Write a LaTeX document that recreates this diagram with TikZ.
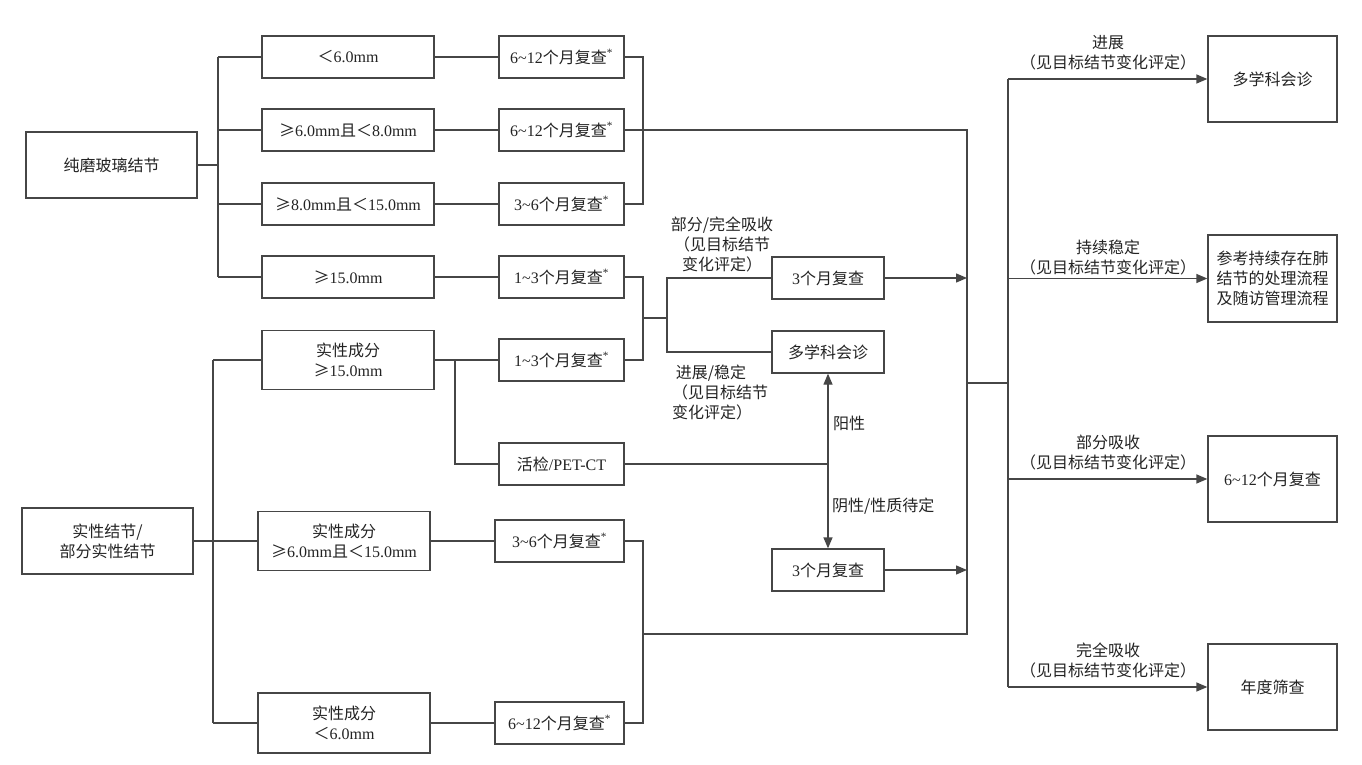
\documentclass[tikz,border=0pt]{standalone}
\usepackage{fontspec}
\setmainfont{Liberation Serif}
\newfontfamily\cjkf{Noto Sans CJK SC}
\usetikzlibrary{arrows.meta}
\newcommand{\zh}[1]{{\cjkf #1}}
\newcommand{\tld}{\textasciitilde}
\newcommand{\sta}{\textsuperscript{*}}
\newcommand{\fsz}{\fontsize{16}{20}\selectfont}
\definecolor{lc}{RGB}{70,70,70}
\definecolor{tc}{RGB}{35,35,35}
\tikzset{
  box/.style={draw=lc, line width=1.3pt, minimum height=42pt, inner sep=0pt, align=center, font=\fsz, text=tc},
  gbox/.style={box, minimum width=172pt},
  mbox/.style={box, minimum width=125pt},
  rbox/.style={box, minimum width=112pt},
  obox/.style={box, minimum width=129pt, minimum height=86pt},
  lbl/.style={align=center, font=\fsz, text=tc, inner sep=0pt},
  ln/.style={draw=lc, line width=1.3pt},
  arr/.style={ln, -{Triangle[length=11pt,width=9pt]}},
}
\begin{document}
\begin{tikzpicture}[x=1pt,y=-1pt]
\useasboundingbox (0,0) rectangle (1362,765);
% left column
\node[box, minimum width=171pt, minimum height=66pt] (A) at (111.5,165) {\zh{纯磨玻璃结节}};
\node[gbox] (g1) at (348,57) {\zh{＜}6.0mm};
\node[gbox] (g2) at (348,130) {\zh{≥}6.0mm\zh{且＜}8.0mm};
\node[gbox] (g3) at (348,204) {\zh{≥}8.0mm\zh{且＜}15.0mm};
\node[gbox] (g4) at (348,277) {\zh{≥}15.0mm};
\node[box, minimum width=172pt, minimum height=59pt] (s1) at (348,360) {\zh{实性成分}\\\zh{≥}15.0mm};
\node[box, minimum width=171pt, minimum height=66pt] (B) at (107.5,541) {\zh{实性结节/}\\\zh{部分实性结节}};
\node[box, minimum width=172pt, minimum height=59pt] (s2) at (344,541) {\zh{实性成分}\\\zh{≥}6.0mm\zh{且＜}15.0mm};
\node[box, minimum width=172pt, minimum height=60pt] (s3) at (344,723) {\zh{实性成分}\\\zh{＜}6.0mm};
% middle column
\node[mbox] (m1) at (561.5,57) {6\tld12\zh{个月复查}\sta};
\node[mbox] (m2) at (561.5,130) {6\tld12\zh{个月复查}\sta};
\node[mbox] (m3) at (561.5,204) {3\tld6\zh{个月复查}\sta};
\node[mbox] (m4) at (561.5,277) {1\tld3\zh{个月复查}\sta};
\node[mbox] (m5) at (561.5,360) {1\tld3\zh{个月复查}\sta};
\node[mbox] (bx) at (561.5,464) {\zh{活检}/PET-CT};
\node[box, minimum width=129pt] (m6) at (559.5,541) {3\tld6\zh{个月复查}\sta};
\node[box, minimum width=129pt] (m7) at (559.5,723) {6\tld12\zh{个月复查}\sta};
% third column
\node[rbox] (r1) at (828,278) {3\zh{个月复查}};
\node[rbox] (r2) at (828,352) {\zh{多学科会诊}};
\node[rbox] (r3) at (828,570) {3\zh{个月复查}};
% right column
\node[obox] (o1) at (1272.5,79) {\zh{多学科会诊}};
\node[obox, minimum height=87pt] (o2) at (1272.5,278.5) {\zh{参考持续存在肺}\\\zh{结节的处理流程}\\\zh{及随访管理流程}};
\node[obox] (o3) at (1272.5,479) {6\tld12\zh{个月复查}};
\node[obox] (o4) at (1272.5,687) {\zh{年度筛查}};
% coordinates
\coordinate (jA) at (218,165);
\coordinate (jB) at (213,541);
\coordinate (k1) at (643,130);
\coordinate (k2) at (643,318);
\coordinate (k2b) at (667,318);
\coordinate (k3) at (643,634);
\coordinate (jS) at (455,360);
\coordinate (jP) at (828,464);
\coordinate (R1) at (967,130);
\coordinate (R2) at (967,634);
\coordinate (jR) at (1008,383);
% upper-left tree
\draw[ln] (A) -- (jA);
\draw[ln] (jA |- g1) -- (jA |- g4);
\foreach \g in {g1,g2,g3,g4} { \draw[ln] (jA |- \g) -- (\g); }
\foreach \g/\m in {g1/m1,g2/m2,g3/m3,g4/m4} { \draw[ln] (\g) -- (\m); }
% lower-left tree
\draw[ln] (B) -- (s2);
\draw[ln] (jB |- s1) -- (jB |- s3);
\draw[ln] (jB |- s1) -- (s1);
\draw[ln] (jB |- s3) -- (s3);
\draw[ln] (s1) -- (m5);
\draw[ln] (s2) -- (m6);
\draw[ln] (s3) -- (m7);
\draw[ln] (jS) |- (bx.west);
% brackets
\draw[ln] (m1.east) -- (m1.east -| k1) -- (m3.east -| k1) -- (m3.east);
\draw[ln] (m2.east) -- (k1) -- (R1) -- (R2) -- (k3);
\draw[ln] (m4.east) -- (m4.east -| k2) -- (m5.east -| k2) -- (m5.east);
\draw[ln] (k2) -- (k2b);
\draw[ln] (r1.west) -- (r1.west -| k2b) -- (r2.west -| k2b) -- (r2.west);
\draw[ln] (m6.east) -- (m6.east -| k3) -- (m7.east -| k3) -- (m7.east);
% biopsy
\draw[ln] (bx) -- (jP);
\draw[arr] (jP) -- (r2);
\draw[arr] (jP) -- (r3);
\draw[arr] (r1) -- (r1 -| R1);
\draw[arr] (r3) -- (r3 -| R1);
% right bus
\draw[ln] (jR -| R1) -- (jR);
\draw[ln] (jR |- o1) -- (jR |- o4);
\foreach \o in {o1,o2,o3,o4} { \draw[arr] (jR |- \o) -- (\o); }
% labels
\node[lbl] (t1) at (722,244) {\zh{部分/完全吸收}\\\zh{（见目标结节}\\\zh{变化评定）}};
\node[lbl, align=left, anchor=west] (t2) at (672,392) {\zh{\ 进展/稳定}\\\zh{（见目标结节}\\\zh{变化评定）}};
\node[lbl, anchor=west] (t3) at (833,423) {\zh{阳性}};
\node[lbl, anchor=west] (t4) at (832,506) {\zh{阴性/性质待定}};
\node[lbl] (t5) at (1108,53) {\zh{进展}\\\zh{（见目标结节变化评定）}};
\node[lbl] (t6) at (1108,257) {\zh{持续稳定}\\\zh{（见目标结节变化评定）}};
\node[lbl] (t7) at (1108,452.5) {\zh{部分吸收}\\\zh{（见目标结节变化评定）}};
\node[lbl] (t8) at (1108,660.5) {\zh{完全吸收}\\\zh{（见目标结节变化评定）}};
\end{tikzpicture}
\end{document}
